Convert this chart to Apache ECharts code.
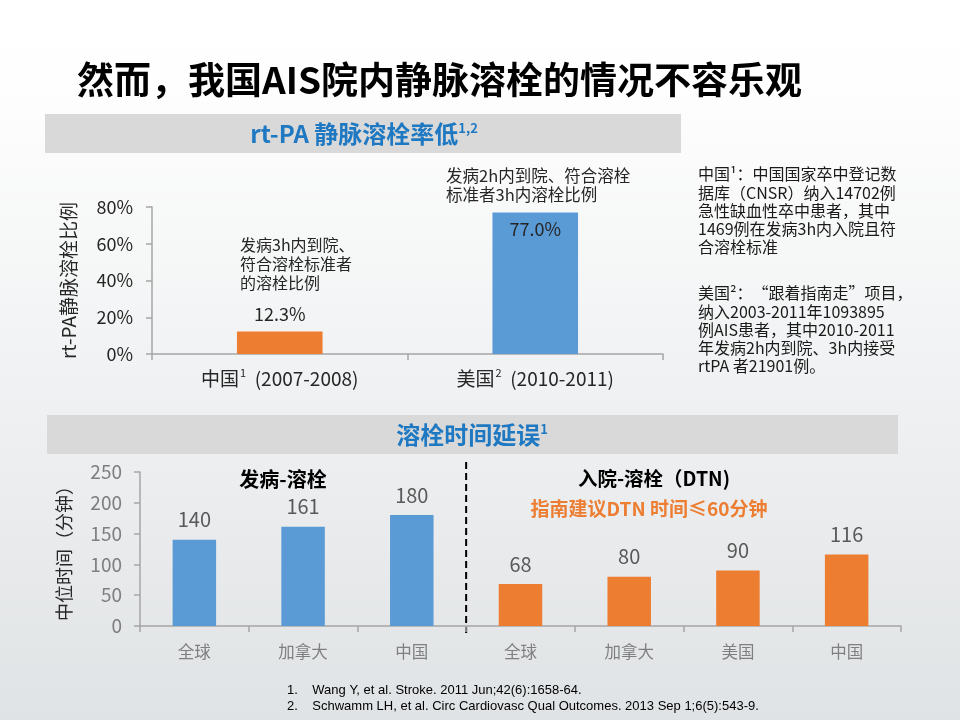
<!DOCTYPE html>
<html>
<head>
<meta charset="utf-8">
<title>然而，我国AIS院内静脉溶栓的情况不容乐观</title>
<script src="https://cdn.jsdelivr.net/npm/echarts@6/dist/echarts.min.js"></script>
<style>
  html, body { margin: 0; padding: 0; }
  #main { width: 960px; height: 720px; }
</style>
</head>
<body>
<div id="main"></div>
<script>
// 上图：rt-PA 静脉溶栓率
var rateCats = ['中国', '美国'];
var rateSup = ['1', '2'];
var ratePeriods = ['(2007-2008)', '(2010-2011)'];
var rateValues = [12.3, 77.0];
var rateTicks = [0, 20, 40, 60, 80];

// 下图：溶栓时间延误
var delayCats = ['全球', '加拿大', '中国', '全球', '加拿大', '美国', '中国'];
var delayValues = [140, 161, 180, 68, 80, 90, 116];
var onsetCount = 3; // 前3个为发病-溶栓，其余为入院-溶栓(DTN)
var delayTicks = [0, 50, 100, 150, 200, 250];

var BLUE = '#5b9bd5';
var ORANGE = '#ed7d31';
var FONT = '"Noto Sans CJK SC", "Noto Sans", sans-serif';

var myChart = echarts.init(document.getElementById('main'));

var option = {
	backgroundColor: new echarts.graphic.LinearGradient(0, 0, 0, 1, [
		{ offset: 0, color: '#ffffff' },
		{ offset: 0.12, color: '#fefefe' },
		{ offset: 1, color: '#e0e3e5' }
	]),
	textStyle: { fontFamily: FONT },
	animation: false,
	grid: [
		{ left: 152, right: 297, top: 207, bottom: 366 },
		{ left: 140, right: 59, top: 472, bottom: 94 }
	],
	xAxis: [{
		gridIndex: 0,
		type: 'category',
		data: rateCats,
		axisLine: { lineStyle: { color: '#a6a6a6', width: 1.5 } },
		axisTick: { show: true, length: 6, lineStyle: { color: '#a6a6a6', width: 1.5 } },
		axisLabel: {
			margin: 13,
			formatter: function(value, idx) {
				return '{a|' + value + '}{s|' + rateSup[idx] + '}{a|  ' + ratePeriods[idx] + '}';
			},
			rich: {
				a: { fontSize: 19, color: '#262626', fontFamily: FONT },
				s: { fontSize: 11, color: '#262626', padding: [0, 0, 13, 1], fontFamily: FONT }
			}
		}
	}, {
		gridIndex: 1,
		type: 'category',
		data: delayCats,
		axisLine: { lineStyle: { color: '#a6a6a6', width: 1.5 } },
		axisTick: { show: true, length: 6, lineStyle: { color: '#a6a6a6', width: 1.5 } },
		axisLabel: { margin: 17, fontSize: 16.5, color: '#7f7f7f' }
	}],
	yAxis: [{
		gridIndex: 0,
		type: 'value',
		min: rateTicks[0],
		max: rateTicks[rateTicks.length - 1],
		interval: rateTicks[1] - rateTicks[0],
		name: 'rt-PA静脉溶栓比例',
		nameLocation: 'middle',
		nameRotate: 90,
		nameGap: 74,
		nameTextStyle: { fontSize: 19, color: '#262626' },
		splitLine: { show: false },
		axisLine: { show: true, lineStyle: { color: '#a6a6a6', width: 1.5 } },
		axisTick: { show: true, length: 6, lineStyle: { color: '#a6a6a6', width: 1.5 } },
		axisLabel: { formatter: '{value}%', fontSize: 18, color: '#262626', margin: 19 }
	}, {
		gridIndex: 1,
		type: 'value',
		min: delayTicks[0],
		max: delayTicks[delayTicks.length - 1],
		interval: delayTicks[1] - delayTicks[0],
		name: '中位时间（分钟）',
		nameLocation: 'middle',
		nameRotate: 90,
		nameGap: 67,
		nameTextStyle: { fontSize: 18, color: '#262626' },
		splitLine: { show: false },
		axisLine: { show: true, lineStyle: { color: '#a6a6a6', width: 1.5 } },
		axisTick: { show: true, length: 6, lineStyle: { color: '#a6a6a6', width: 1.5 } },
		axisLabel: { fontSize: 19, color: '#7f7f7f', margin: 18 }
	}],
	series: [{
		type: 'bar',
		xAxisIndex: 0,
		yAxisIndex: 0,
		barWidth: '33.5%',
		data: rateValues.map(function(v, i) {
			return {
				value: v,
				itemStyle: { color: i === 0 ? ORANGE : BLUE },
				label: { position: i === 0 ? 'top' : 'insideTop', distance: 8 }
			};
		}),
		label: {
			show: true,
			fontSize: 18,
			color: '#262626',
			formatter: function(p) { return p.value.toFixed(1) + '%'; }
		}
	}, {
		type: 'bar',
		xAxisIndex: 1,
		yAxisIndex: 1,
		barWidth: '40%',
		data: delayValues.map(function(v, i) {
			return { value: v, itemStyle: { color: i < onsetCount ? BLUE : ORANGE } };
		}),
		label: {
			show: true,
			position: 'top',
			distance: 10,
			fontSize: 20,
			color: '#595959'
		}
	}]
};

myChart.setOption(option);

// 分隔虚线：位于“中国”与第二组“全球”之间
var px2 = myChart.convertToPixel({ xAxisIndex: 1, yAxisIndex: 1 }, [onsetCount - 1, 0]);
var px3 = myChart.convertToPixel({ xAxisIndex: 1, yAxisIndex: 1 }, [onsetCount, 0]);
var top250 = myChart.convertToPixel({ xAxisIndex: 1, yAxisIndex: 1 }, [0, delayTicks[delayTicks.length - 1]]);
var divX = (px2[0] + px3[0]) / 2;

var noteCN = '中国¹：中国国家卒中登记数\n据库（CNSR）纳入14702例\n急性缺血性卒中患者，其中\n1469例在发病3h内入院且符\n合溶栓标准';
var noteUS = '美国²：“跟着指南走”项目，\n纳入2003-2011年1093895\n例AIS患者，其中2010-2011\n年发病2h内到院、3h内接受\nrtPA 者21901例。';

myChart.setOption({
	graphic: [
		// 主标题
		{ type: 'text', x: 77, y: 80, style: {
			text: '然而，我国AIS院内静脉溶栓的情况不容乐观',
			verticalAlign: 'middle',
			font: 'bold 37px ' + FONT, fill: '#000000' } },
		// 上方标题栏
		{ type: 'rect', shape: { x: 45, y: 114, width: 636, height: 39 }, style: { fill: '#d9d9d9' }, z: -1 },
		{ type: 'text', x: 364, y: 134, style: {
			text: '{t|rt-PA 静脉溶栓率低}{s|1,2}',
			align: 'center', verticalAlign: 'middle',
			rich: {
				t: { font: 'bold 24px ' + FONT, fill: '#1f78c2' },
				s: { font: 'bold 13px ' + FONT, fill: '#1f78c2', padding: [0, 0, 11, 0] }
			} } },
		// 上图注释
		{ type: 'text', left: 240, top: 235, style: {
			text: '发病3h内到院、\n符合溶栓标准者\n的溶栓比例',
			font: '16px ' + FONT, fill: '#262626', lineHeight: 19 } },
		{ type: 'text', left: 446, top: 166, style: {
			text: '发病2h内到院、符合溶栓\n标准者3h内溶栓比例',
			font: '16.5px ' + FONT, fill: '#262626', lineHeight: 19 } },
		// 右侧说明
		{ type: 'text', left: 698, top: 165, style: {
			text: noteCN, font: '16px ' + FONT, fill: '#1a1a1a', lineHeight: 18.3 } },
		{ type: 'text', left: 698, top: 284, style: {
			text: noteUS, font: '16px ' + FONT, fill: '#1a1a1a', lineHeight: 18.3 } },
		// 下方标题栏
		{ type: 'rect', shape: { x: 47, y: 415, width: 851, height: 39 }, style: { fill: '#d9d9d9' }, z: -1 },
		{ type: 'text', x: 472, y: 435, style: {
			text: '{t|溶栓时间延误}{s|1}',
			align: 'center', verticalAlign: 'middle',
			rich: {
				t: { font: 'bold 24px ' + FONT, fill: '#1f78c2' },
				s: { font: 'bold 13px ' + FONT, fill: '#1f78c2', padding: [0, 0, 11, 0] }
			} } },
		// 分组标签
		{ type: 'text', x: 283, y: 479, style: {
			text: '发病-溶栓', align: 'center', verticalAlign: 'middle',
			font: 'bold 20px ' + FONT, fill: '#000000' } },
		{ type: 'text', x: 654, y: 479, style: {
			text: '入院-溶栓（DTN)', align: 'center', verticalAlign: 'middle',
			font: 'bold 19.5px ' + FONT, fill: '#000000' } },
		{ type: 'text', x: 649, y: 509, style: {
			text: '指南建议DTN 时间≤60分钟', align: 'center', verticalAlign: 'middle',
			font: 'bold 19px ' + FONT, fill: ORANGE } },
		// 分隔虚线
		{ type: 'line', shape: { x1: divX, y1: top250[1] - 10, x2: divX, y2: px2[1] + 7 },
			style: { stroke: '#000000', lineWidth: 2, lineDash: [7, 4] } },
		// 参考文献
		{ type: 'text', left: 287, top: 682, style: {
			text: '1.    Wang Y, et al. Stroke. 2011 Jun;42(6):1658-64.\n2.    Schwamm LH, et al. Circ Cardiovasc Qual Outcomes. 2013 Sep 1;6(5):543-9.',
			font: '13px "Liberation Sans", Arial, sans-serif', fill: '#000000', lineHeight: 16.5 } }
	]
});
</script>
</body>
</html>
